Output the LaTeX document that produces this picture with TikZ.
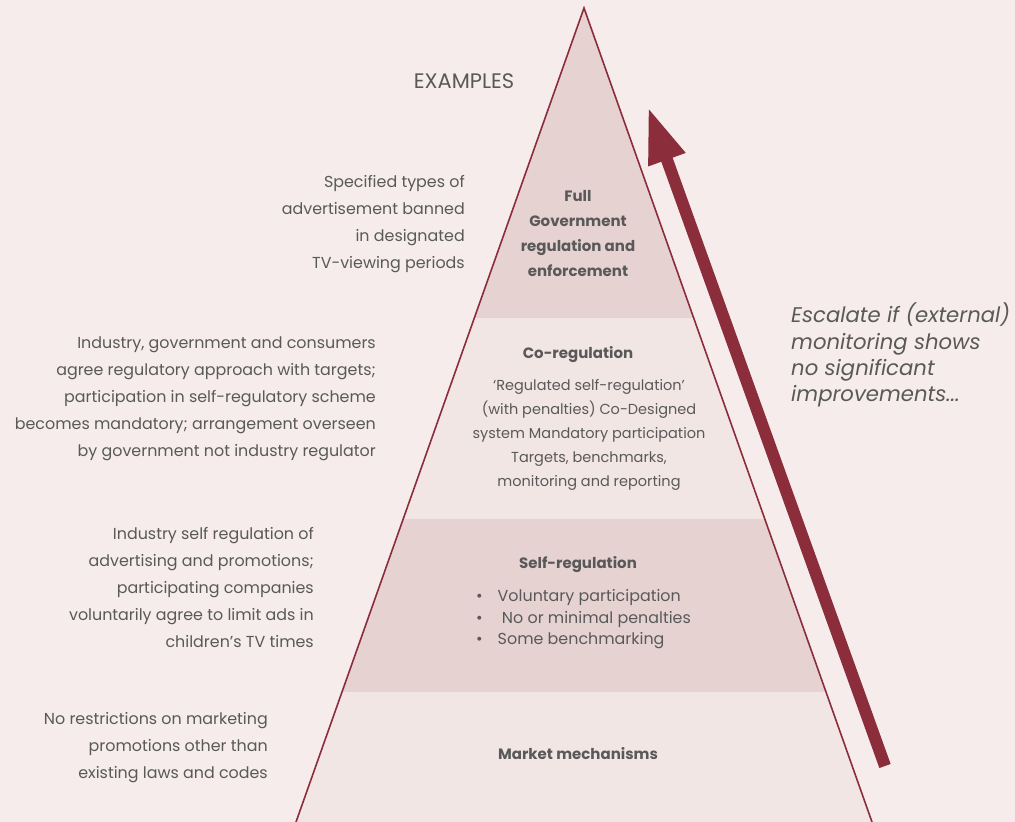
\documentclass[tikz,border=0pt]{standalone}
\usepackage{fontspec}
\setmainfont{Poppins}
\usetikzlibrary{arrows.meta}
\definecolor{bgc}{HTML}{F5ECEB}
\definecolor{darkband}{HTML}{E6D3D1}
\definecolor{lightband}{HTML}{F2E6E4}
\definecolor{edge}{HTML}{8B2D3B}
\definecolor{txt}{HTML}{595959}
\tikzset{
  lefttext/.style={anchor=east, align=right, inner sep=0pt, text=txt, font=\fontsize{15.9}{27}\selectfont},
  boldtitle/.style={anchor=center, align=center, inner sep=0pt, text=txt, font=\fontsize{15}{25}\selectfont\bfseries},
  desc/.style={anchor=center, align=center, inner sep=0pt, text=txt, font=\fontsize{14.5}{24}\selectfont},
}
\begin{document}
\begin{tikzpicture}[x=1pt,y=-1pt]
\useasboundingbox (0,0) rectangle (1015,822);
\fill[bgc] (0,0) rectangle (1015,822);
% coordinates
\coordinate (apex) at (584,8);
\coordinate (l1) at (474.3,318); \coordinate (r1) at (693.7,318);
\coordinate (l2) at (403.2,519); \coordinate (r2) at (764.8,519);
\coordinate (l3) at (342,692);   \coordinate (r3) at (826,692);
\coordinate (l4) at (296,822);   \coordinate (r4) at (872,822);
% bands
\fill[darkband] (apex) -- (r1) -- (l1) -- cycle;
\fill[lightband] (l1) -- (r1) -- (r2) -- (l2) -- cycle;
\fill[darkband] (l2) -- (r2) -- (r3) -- (l3) -- cycle;
\fill[lightband] (l3) -- (r3) -- (r4) -- (l4) -- cycle;
% sides
\draw[edge, line width=1.6pt] (l4) -- (apex) -- (r4);
% arrow
\coordinate (atail) at (885,766);
\coordinate (atip) at (648,107);
\draw[edge, line width=12pt, -{Triangle[length=56pt,width=36pt]}] (atail) -- (atip);
% texts
\node[text=txt, font=\fontsize{21}{22}\selectfont, inner sep=0pt] (examples) at (464,81) {EXAMPLES};
\node[lefttext] (ex1) at (465,224) {Specified types of\\advertisement banned\\in designated\\TV-viewing periods};
\node[lefttext] (ex2) at (376,399) {Industry, government and consumers\\agree regulatory approach with targets;\\participation in self-regulatory scheme\\becomes mandatory; arrangement overseen\\by government not industry regulator};
\node[lefttext] (ex3) at (314,587) {Industry self regulation of\\advertising and promotions;\\participating companies\\voluntarily agree to limit ads in\\children’s TV times};
\node[lefttext] (ex4) at (268,748) {No restrictions on marketing\\promotions other than\\existing laws and codes};
\node[boldtitle] (full) at (578,234) {Full\\Government\\regulation and\\enforcement};
\node[boldtitle] (coreg) at (578,355) {Co-regulation};
\node[desc] (coregd) at (589,435) {‘Regulated self-regulation’\\(with penalties) Co-Designed\\system Mandatory participation\\Targets, benchmarks,\\monitoring and reporting};
\node[boldtitle] (selfreg) at (578,565) {Self-regulation};
\node[anchor=west, inner sep=0pt, text=txt, font=\fontsize{15.9}{21.5}\selectfont] (bullets) at (476,619)
 {\begin{tabular}{@{}l@{\hspace{15pt}}l@{}}\textbullet & Voluntary participation\\ \textbullet & \ No or minimal penalties\\ \textbullet & Some benchmarking\end{tabular}};
\node[boldtitle] (market) at (578,754) {Market mechanisms};
\node[anchor=west, align=left, inner sep=0pt, text=txt, font=\fontsize{21.2}{26.3}\selectfont\itshape] (esc) at (791,355) {Escalate if (external)\\monitoring shows\\no significant\\improvements...};
\end{tikzpicture}
\end{document}
